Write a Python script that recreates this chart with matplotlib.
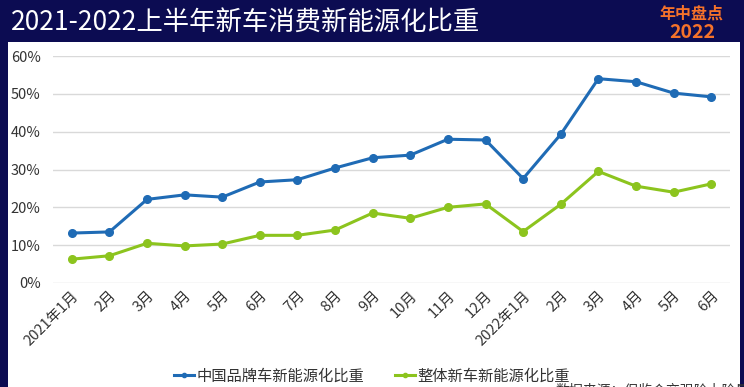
import matplotlib
matplotlib.use("Agg")
import matplotlib.pyplot as plt
from matplotlib.patches import Rectangle
from matplotlib.ticker import FuncFormatter

plt.rcParams['font.family'] = ['Noto Sans CJK SC', 'DejaVu Sans']

months = ["2021年1月", "2月", "3月", "4月", "5月", "6月", "7月", "8月", "9月",
          "10月", "11月", "12月", "2022年1月", "2月", "3月", "4月", "5月", "6月"]
china_brand = [13.2, 13.5, 22.1, 23.3, 22.7, 26.7, 27.3, 30.4, 33.1, 33.8,
               38.0, 37.8, 27.6, 39.3, 54.0, 53.2, 50.2, 49.2]
overall = [6.3, 7.2, 10.5, 9.8, 10.3, 12.6, 12.6, 14.0, 18.5, 17.1,
           20.0, 20.9, 13.6, 20.8, 29.5, 25.6, 24.0, 26.2]
series_names = ["中国品牌车新能源化比重", "整体新车新能源化比重"]
title = "2021-2022上半年新车消费新能源化比重"
source = "数据来源：保监会交强险上险量"

navy = "#0c0c52"
blue = "#1f6bb5"
green = "#8cc41e"
orange = "#f5722a"

fig = plt.figure(figsize=(7.44, 3.87), dpi=100)
fig.patch.set_facecolor(navy)

# white panel
fig.add_artist(Rectangle((8/744, 0), (740-8)/744, 1 - 42/387,
                         transform=fig.transFigure, facecolor="white",
                         edgecolor="none", zorder=-5))

ax = fig.add_axes([53/744, 1 - 283/387, (730-53)/744, (283-56)/387])
ax.set_facecolor("white")
x = list(range(len(months)))
ax.plot(x, china_brand, color=blue, lw=2.2, marker='o', ms=5.5, label=series_names[0])
ax.plot(x, overall, color=green, lw=2.2, marker='o', ms=5.5, label=series_names[1])
ax.set_xlim(-0.5, len(months) - 0.5)
ax.set_ylim(0, 60)
ax.set_yticks(range(0, 61, 10))
ax.yaxis.set_major_formatter(FuncFormatter(lambda v, p: f"{int(v)}%"))
ax.grid(axis='y', color="#d9d9d9", lw=1)
ax.set_axisbelow(True)
for s in ax.spines.values():
    s.set_visible(False)
ax.tick_params(axis='both', length=0, labelsize=10.5, colors="#333333")
ax.tick_params(axis='y', pad=9)
ax.tick_params(axis='x', pad=4)
ax.set_xticks(x)
ax.set_xticklabels(months, rotation=45, ha='right', rotation_mode='anchor')

leg = fig.legend(loc='center', bbox_to_anchor=(372/744, 1 - 376/387), ncol=2,
                 frameon=False, fontsize=11, handlelength=1.3, columnspacing=2.0,
                 handletextpad=0.15, markerscale=0.55)
for t in leg.get_texts():
    t.set_color("#333333")

fig.text(11/744, 1 - 22/387, title, color="white", fontsize=19, va='center', ha='left')
fig.text(691/744, 1 - 14/387, "年中盘点", color=orange, fontsize=11.5, fontweight='bold',
         va='center', ha='center')
fig.text(692/744, 1 - 33/387, "2022", color=orange, fontsize=14, fontweight='bold',
         va='center', ha='center')
fig.text(555/744, 1 - 391/387, source, color="#333333", fontsize=10, va='center', ha='left')

fig.savefig("out.png", dpi=100, facecolor=navy)
